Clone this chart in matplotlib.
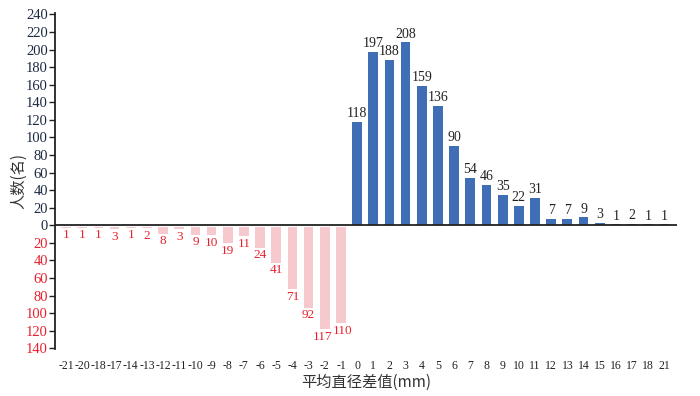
import matplotlib
matplotlib.use("Agg")
import matplotlib.pyplot as plt
import numpy as np

neg_labels = ["-21", "-20", "-18", "-17", "-14", "-13", "-12", "-11", "-10", "-9",
              "-8", "-7", "-6", "-5", "-4", "-3", "-2", "-1"]
neg_values = [1, 1, 1, 3, 1, 2, 8, 3, 9, 10, 19, 11, 24, 41, 71, 92, 117, 110]
pos_labels = ["0", "1", "2", "3", "4", "5", "6", "7", "8", "9", "10", "11", "12",
              "13", "14", "15", "16", "17", "18", "21"]
pos_values = [118, 197, 188, 208, 159, 136, 90, 54, 46, 35, 22, 31, 7, 7, 9, 3, 1, 2, 1, 1]
y_pos_ticks = [0, 20, 40, 60, 80, 100, 120, 140, 160, 180, 200, 220, 240]
y_neg_ticks = [20, 40, 60, 80, 100, 120, 140]

SERIF = ["Liberation Serif", "Noto Sans CJK SC"]
CJK = ["Noto Sans CJK SC", "DejaVu Sans"]
BLUE = "#3F6DB6"
PINK = "#F5C9CD"
RED = "#E8212E"
DARK = "#222222"

fig = plt.figure(figsize=(7.0, 3.96), dpi=100)
ax = fig.add_axes([0.0786, 0.118, 0.889, 0.848])

n_neg = len(neg_values)
xn = np.arange(n_neg)
xp = np.arange(len(pos_values)) + n_neg

ax.bar(xn, [-v for v in neg_values], width=0.6, bottom=-1.5, color=PINK, zorder=2)
ax.bar(xp, pos_values, width=0.6, color=BLUE, zorder=2)

for i, (x, v) in enumerate(zip(xn, neg_values)):
    # the two tallest neighbouring labels are spread apart slightly, as in the original
    dx = -0.12 if i == n_neg - 2 else (0.12 if i == n_neg - 1 else 0.0)
    ax.text(x + dx, -v - 3.5, str(v), ha="center", va="top", color=RED,
            fontsize=9.5, family=SERIF)
for x, v in zip(xp, pos_values):
    ax.text(x, v + 2, str(v), ha="center", va="bottom", color=DARK,
            fontsize=10, family=SERIF)

ax.axhline(0, color="#222222", lw=1.3, zorder=3)

ax.set_xlim(-0.68, len(neg_values) + len(pos_values) - 1 + 0.8)
ax.set_ylim(-141, 241)

yt = [-v for v in y_neg_ticks[::-1]] + y_pos_ticks
ax.set_yticks(yt)
ax.set_yticklabels([str(v) for v in y_neg_ticks[::-1]] + [str(v) for v in y_pos_ticks],
                   family=SERIF, fontsize=10.5)
for lab, v in zip(ax.get_yticklabels(), yt):
    lab.set_color(RED if v < 0 else "#1c2a40")

ax.set_xticks(np.concatenate([xn, xp]))
ax.set_xticklabels(neg_labels + pos_labels, family=SERIF, fontsize=8.5, color=DARK)
ax.tick_params(axis="x", length=0, pad=8)
ax.tick_params(axis="y", length=4, width=1, direction="out", color="#222222", pad=1)

for s in ["top", "right", "bottom"]:
    ax.spines[s].set_visible(False)
ax.spines["left"].set_color("#222222")
ax.spines["left"].set_linewidth(1.3)

ax.set_ylabel("人数(名)", family=CJK, fontsize=11, color="#333333", labelpad=-1)
ax.set_xlabel("平均直径差值(mm)", family=CJK, fontsize=11, color="#333333", labelpad=1)

fig.savefig("out.png", dpi=100)
